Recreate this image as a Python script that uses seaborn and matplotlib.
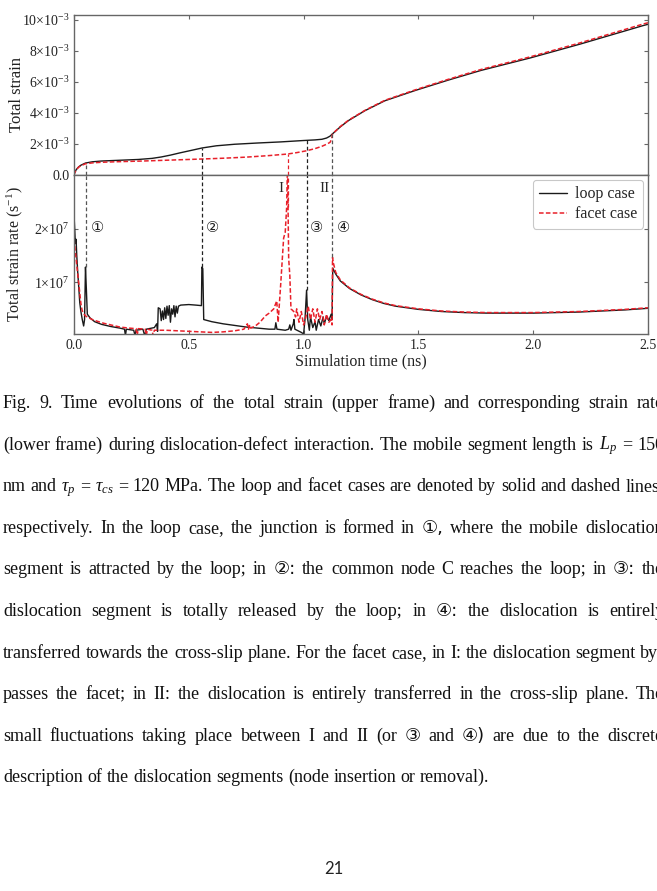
import matplotlib
matplotlib.use("Agg")
import matplotlib.pyplot as plt
import seaborn as sns

# ---- upper frame: total strain (units of 1e-3) ----
t_strain_loop = [0.0, 0.004, 0.01, 0.02, 0.03, 0.05, 0.08, 0.12, 0.2, 0.28,
                 0.34, 0.38, 0.42, 0.46, 0.5, 0.558, 0.62, 0.7, 0.8, 0.9,
                 1.0, 1.05, 1.08, 1.1, 1.115, 1.126, 1.16, 1.195, 1.267, 1.354,
                 1.49, 1.628, 1.772, 1.988, 2.205, 2.479, 2.5]
strain_loop = [0.0, 0.18, 0.35, 0.52, 0.63, 0.77, 0.85, 0.9, 0.95, 1.0,
               1.07, 1.16, 1.28, 1.42, 1.55, 1.74, 1.88, 1.98, 2.06, 2.13,
               2.22, 2.26, 2.3, 2.38, 2.5, 2.65, 3.1, 3.5, 4.14, 4.78,
               5.46, 6.1, 6.73, 7.54, 8.43, 9.62, 9.7]

t_strain_facet = [0.0, 0.004, 0.01, 0.02, 0.03, 0.05, 0.08, 0.12, 0.2, 0.3,
                  0.4, 0.5, 0.558, 0.65, 0.75, 0.85, 0.93, 0.97, 1.013, 1.05,
                  1.08, 1.1, 1.115, 1.122, 1.126, 1.16, 1.195, 1.267, 1.354, 1.49,
                  1.628, 1.772, 1.988, 2.205, 2.479, 2.5]
strain_facet = [0.0, 0.18, 0.34, 0.5, 0.6, 0.72, 0.78, 0.82, 0.86, 0.9,
                0.95, 1.0, 1.03, 1.08, 1.15, 1.25, 1.35, 1.44, 1.56, 1.7,
                1.85, 1.98, 2.1, 2.3, 2.65, 3.12, 3.52, 4.16, 4.81, 5.5,
                6.15, 6.79, 7.61, 8.51, 9.72, 9.8]

# ---- lower frame: total strain rate (units of 1e7 s^-1) ----
t_rate_loop = [0.000, 0.003, 0.006, 0.009, 0.012, 0.016, 0.020, 0.025, 0.030, 0.036,
               0.042, 0.046, 0.050, 0.054, 0.058, 0.070, 0.090, 0.120, 0.160, 0.200,
               0.220, 0.224, 0.228, 0.260, 0.266, 0.270, 0.300, 0.308, 0.315, 0.350,
               0.360, 0.364, 0.367, 0.375, 0.380, 0.385, 0.390, 0.395, 0.400, 0.405,
               0.410, 0.415, 0.420, 0.425, 0.430, 0.435, 0.440, 0.445, 0.450, 0.455,
               0.465, 0.500, 0.530, 0.555, 0.557, 0.561, 0.565, 0.600, 0.650, 0.700,
               0.750, 0.800, 0.850, 0.875, 0.879, 0.884, 0.920, 0.935, 0.940, 0.945,
               0.955, 0.958, 0.962, 0.990, 1.000, 1.006, 1.013, 1.018, 1.025, 1.030,
               1.040, 1.050, 1.055, 1.065, 1.075, 1.085, 1.090, 1.100, 1.110, 1.120,
               1.124, 1.127, 1.140, 1.160, 1.200, 1.250, 1.300, 1.350, 1.400, 1.500,
               1.600, 1.700, 1.800, 1.900, 2.000, 2.100, 2.200, 2.300, 2.400, 2.500]
rate_loop = [2.25, 2.00, 1.72, 1.80, 1.50, 1.20, 0.95, 0.62, 0.45, 0.30,
             0.18, 0.30, 1.28, 0.85, 0.40, 0.33, 0.26, 0.21, 0.17, 0.14,
             0.12, 0.00, 0.12, 0.10, 0.00, 0.10, 0.12, 0.00, 0.12, 0.15,
             0.22, 0.08, 0.52, 0.50, 0.28, 0.46, 0.30, 0.52, 0.32, 0.55,
             0.38, 0.56, 0.25, 0.50, 0.40, 0.56, 0.35, 0.55, 0.42, 0.55,
             0.57, 0.58, 0.57, 0.56, 1.28, 1.25, 0.30, 0.26, 0.22, 0.19,
             0.16, 0.14, 0.12, 0.12, 0.24, 0.12, 0.10, 0.12, 0.20, 0.10,
             0.22, 0.30, 0.12, 0.06, 0.03, 0.30, 0.85, 0.30, 0.10, 0.35,
             0.15, 0.26, 0.10, 0.30, 0.18, 0.35, 0.22, 0.36, 0.28, 0.40,
             0.30, 1.26, 1.15, 1.02, 0.88, 0.76, 0.67, 0.60, 0.55, 0.49,
             0.45, 0.43, 0.42, 0.42, 0.42, 0.43, 0.44, 0.46, 0.48, 0.51]

t_rate_facet = [0.000, 0.005, 0.010, 0.015, 0.020, 0.025, 0.030, 0.035, 0.040, 0.050,
                0.060, 0.080, 0.100, 0.130, 0.160, 0.200, 0.240, 0.270, 0.275, 0.280,
                0.310, 0.315, 0.320, 0.340, 0.345, 0.350, 0.400, 0.450, 0.500, 0.550,
                0.600, 0.650, 0.700, 0.740, 0.755, 0.760, 0.765, 0.770, 0.790, 0.810,
                0.834, 0.850, 0.870, 0.883, 0.889, 0.900, 0.913, 0.920, 0.926, 0.930,
                0.935, 0.940, 0.945, 0.957, 0.965, 0.970, 0.980, 0.990, 1.000, 1.010,
                1.020, 1.030, 1.040, 1.050, 1.060, 1.070, 1.080, 1.090, 1.100, 1.110,
                1.120, 1.124, 1.126, 1.130, 1.140, 1.160, 1.200, 1.250, 1.300, 1.350,
                1.400, 1.500, 1.600, 1.700, 1.800, 1.900, 2.000, 2.100, 2.200, 2.300,
                2.400, 2.500]
rate_facet = [1.80, 1.60, 1.40, 1.20, 1.00, 0.80, 0.60, 0.48, 0.42, 0.37,
              0.34, 0.30, 0.27, 0.23, 0.20, 0.16, 0.14, 0.13, 0.00, 0.13,
              0.12, 0.00, 0.12, 0.10, 0.00, 0.10, 0.10, 0.09, 0.08, 0.07,
              0.06, 0.07, 0.09, 0.12, 0.22, 0.12, 0.20, 0.14, 0.18, 0.25,
              0.37, 0.42, 0.50, 0.65, 0.25, 0.94, 1.82, 1.93, 2.38, 3.20,
              1.44, 1.12, 0.50, 0.45, 0.35, 0.50, 0.25, 0.45, 0.20, 0.35,
              0.55, 0.30, 0.50, 0.25, 0.50, 0.30, 0.45, 0.20, 0.40, 0.25,
              0.30, 0.20, 1.46, 1.35, 1.18, 1.04, 0.89, 0.77, 0.68, 0.61,
              0.56, 0.50, 0.46, 0.44, 0.43, 0.43, 0.43, 0.44, 0.45, 0.47,
              0.49, 0.52]

# ---- event markers (①, ②, I, ③, ④/II) ----
event_t = [0.052, 0.558, 0.93, 1.013, 1.125]
event_strain = [0.77, 1.74, 1.35, 2.24, 2.65]
event_rate = [1.28, 1.28, 2.4, 0.85, 1.46]
event_color = ["#555555", "#222222", "#e8202a", "#222222", "#555555"]
event_labels = ["①", "②", "I", "③", "④"]

strain_ticks = [0, 2, 4, 6, 8, 10]
rate_ticks = [1, 2]
time_ticks = [0.0, 0.5, 1.0, 1.5, 2.0, 2.5]

caption_lines = [
    "Fig. 9. Time evolutions of the total strain (upper frame) and corresponding strain rate",
    "(lower frame) during dislocation-defect interaction. The mobile segment length is $L_p$ = 150",
    r"nm and $\tau_p$ = $\tau_{cs}$ = 120 MPa. The loop and facet cases are denoted by solid and dashed lines,",
    "respectively. In the loop case, the junction is formed in ①, where the mobile dislocation",
    "segment is attracted by the loop; in ②: the common node C reaches the loop; in ③: the",
    "dislocation segment is totally released by the loop; in ④: the dislocation is entirely",
    "transferred towards the cross-slip plane. For the facet case, in I: the dislocation segment by-",
    "passes the facet; in II: the dislocation is entirely transferred in the cross-slip plane. The",
    "small fluctuations taking place between I and II (or ③ and ④) are due to the discrete",
    "description of the dislocation segments (node insertion or removal).",
]

sns.set_style("ticks")
plt.rcParams["font.family"] = "Liberation Serif"
plt.rcParams["mathtext.fontset"] = "custom"
plt.rcParams["mathtext.rm"] = "Liberation Serif"
plt.rcParams["mathtext.it"] = "Liberation Serif:italic"
plt.rcParams["axes.edgecolor"] = "#666666"

W, H = 657, 891
fig = plt.figure(figsize=(W / 100, H / 100), dpi=100)
ax1 = fig.add_axes([74 / W, 1 - 175 / H, 574 / W, 160 / H])
ax2 = fig.add_axes([74 / W, 1 - 334 / H, 574 / W, 159 / H])

red = "#e8202a"
sns.lineplot(x=t_strain_loop, y=strain_loop, ax=ax1, color="#1a1a1a", lw=1.0,
             estimator=None, sort=False)
sns.lineplot(x=t_strain_facet, y=strain_facet, ax=ax1, color=red, lw=1.1,
             estimator=None, sort=False, linestyle=(0, (3, 1.5)))
sns.lineplot(x=t_rate_loop, y=rate_loop, ax=ax2, color="#1a1a1a", lw=1.0,
             estimator=None, sort=False, label="loop case")
sns.lineplot(x=t_rate_facet, y=rate_facet, ax=ax2, color=red, lw=1.1,
             estimator=None, sort=False, linestyle=(0, (3, 1.5)), label="facet case")

ax1.set_xlim(0, 2.5)
ax1.set_ylim(0, 10.3)
ax2.set_xlim(0, 2.5)
ax2.set_ylim(0.03, 3.0)

# event lines crossing both frames
for t, s, r, c in zip(event_t, event_strain, event_rate, event_color):
    ax1.vlines(t, 0, s, colors=c, linestyles=(0, (3, 2)), lw=0.9)
    ax2.vlines(t, r, 3.0, colors=c, linestyles=(0, (3, 2)), lw=0.9)

circ = "DejaVu Sans"
for k, dx in zip([0, 1, 3, 4], [0.048, 0.045, 0.045, 0.047]):
    ax2.text(event_t[k] + dx, 2.02, event_labels[k], family=circ, fontsize=10.5,
             ha="center", va="center", color="#222222")
ax2.text(event_t[2] - 0.027, 2.75, "I", fontsize=11, ha="center", va="center")
ax2.text(event_t[4] - 0.032, 2.75, "II", fontsize=11, ha="center", va="center")

ax1.set_yticks(strain_ticks)
ax1.set_yticklabels(["0.0"] + [r"$%d{\times}10^{-3}$" % v for v in strain_ticks[1:]])
ax1.set_xticks(time_ticks)
ax1.tick_params(direction="in", top=True, right=True, bottom=False, labelbottom=False,
                labelsize=10, length=3, colors="#666666", labelcolor="#222222")
ax1.set_ylabel("Total strain", fontsize=12, color="#222222")
ax1.yaxis.set_label_coords(-0.085, 0.5)

ax2.set_yticks(rate_ticks)
ax2.set_yticklabels([r"$%d{\times}10^{7}$" % v for v in rate_ticks])
ax2.set_xticks(time_ticks)
ax2.set_xticklabels(["%.1f" % v for v in time_ticks])
ax2.tick_params(direction="in", top=False, right=True, labelsize=10, length=3,
                colors="#666666", labelcolor="#222222")
ax2.set_ylabel(r"Total strain rate (s$^{-1}$)", fontsize=11.5, color="#222222")
ax2.yaxis.set_label_coords(-0.085, 0.5)
ax2.set_xlabel("Simulation time (ns)", fontsize=11.5, color="#222222", labelpad=1)

for ax in (ax1, ax2):
    for sp in ax.spines.values():
        sp.set_linewidth(1.0)
        sp.set_visible(True)

leg = ax2.legend(loc="upper right", fontsize=11.5, handlelength=1.7, handletextpad=0.5,
                 borderaxespad=0.3, labelspacing=0.25, frameon=True, fancybox=True)
leg.get_frame().set_edgecolor("#bbbbbb")
leg.get_frame().set_linewidth(0.8)

# ---- caption, justified word by word ----
renderer = fig.canvas.get_renderer()
left_px, right_px = 3, 664


def word_text(w, size):
    fam = circ if any(ch in w for ch in "①②③④") else "Liberation Serif"
    return fig.text(0, 0, w, fontsize=size, family=fam, va="baseline", ha="left",
                    color="#111111")


# size the caption so the last (unjustified) line matches the reference width
probe = word_text(caption_lines[-1], 12)
cap_size = 12 * 487 / probe.get_window_extent(renderer).width
probe.remove()
space_px = cap_size * 100 / 72 * 0.25

for i, line in enumerate(caption_lines):
    base_y = 408 + 41.6 * i
    items = []
    for w in line.split(" "):
        txt = word_text(w, cap_size)
        txt.set_y(1 - base_y / H)
        items.append((txt, txt.get_window_extent(renderer).width))
    total = sum(wd for _, wd in items)
    if i < len(caption_lines) - 1:
        gap = (right_px - left_px - total) / (len(items) - 1)
    else:
        gap = space_px
    x = left_px
    for txt, wd in items:
        txt.set_x(x / W)
        x += wd + gap

fig.text(334 / W, 1 - 869 / H, "21", family="Lato", fontsize=12, ha="center", va="center",
         color="#222222")

fig.savefig("out.png", dpi=100)
